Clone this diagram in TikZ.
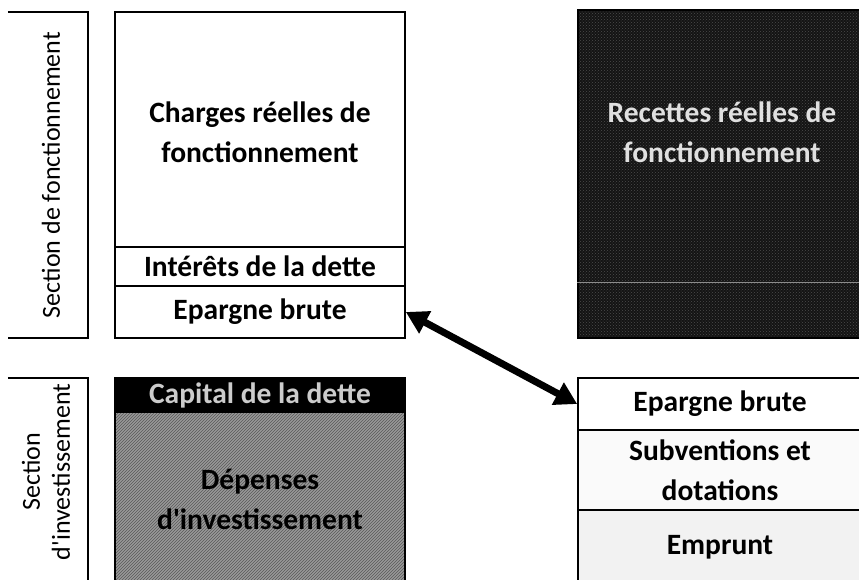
\documentclass[tikz,border=0pt]{standalone}
\usepackage{fontspec}
\setmainfont{Carlito}[Ligatures=TeXOff]
\usetikzlibrary{arrows.meta,patterns}
\begin{document}
\begin{tikzpicture}[x=1pt,y=-1pt,
  cell/.style={draw=black,line width=1.6pt,inner sep=0pt,align=center,
    font=\bfseries\fontsize{29.5}{40}\selectfont},
  celltext/.style={inner sep=0pt,align=center,font=\bfseries\fontsize{29.5}{40}\selectfont},
  frame/.style={inner sep=0pt},
  labeltext/.style={inner sep=0pt,align=center,rotate=90,font=\fontsize{26}{30}\selectfont},
  framepath/.style={draw=black,line width=1.6pt},
  bigarrow/.style={line width=7pt,{Triangle[length=22pt,width=24pt]}-{Triangle[length=22pt,width=24pt]}}]
\useasboundingbox (0,0) rectangle (859,579);

% label frames
\node[frame,minimum width=80pt,minimum height=326pt] (lab1) at (48,175) {};
\draw[framepath] (lab1.north west) -- (lab1.north east) -- (lab1.south east) -- (lab1.south west);
\node[labeltext] (lab1t) at (51,175) {Section de fonctionnement};

\node[frame,minimum width=80pt,minimum height=204pt] (lab2) at (48,480) {};
\draw[framepath] (lab2.north west) -- (lab2.north east) -- (lab2.south east);
\node[labeltext] (lab2t) at (46,472) {Section\\d'investissement};

% top-left column
\node[cell,minimum width=290pt,minimum height=235pt] (charges) at (260,129.5) {};
\node[celltext] (chargest) at (260,132) {Charges réelles de\\fonctionnement};
\node[cell,minimum width=290pt,minimum height=39pt] (interets) at (260,266.5) {Intérêts de la dette};
\node[cell,minimum width=290pt,minimum height=52pt] (epargne1) at (260,312) {Epargne brute};

% top-right dark box
\node[cell,preaction={fill=black!92},pattern=crosshatch dots,pattern color=black!70,minimum width=284pt,minimum height=328pt] (recettes) at (720,174) {};
\draw[black!45,line width=1pt] ([yshift=56pt]recettes.south west) -- ([yshift=56pt]recettes.south east);
\node[celltext,text=black!12] (recettest) at (722,132) {Recettes réelles de\\fonctionnement};

% bottom-left column
\node[cell,fill=black,text=black!20,minimum width=290pt,minimum height=34pt] (capital) at (260,395) {Capital de la dette};
\node[cell,preaction={fill=black!40},pattern=north east lines,pattern color=black!65,minimum width=290pt,minimum height=170pt] (depenses) at (260,497) {};
\node[celltext] (depensest) at (260,499) {Dépenses\\d'investissement};

% bottom-right column
\node[cell,minimum width=284pt,minimum height=52pt] (epargne2) at (720,404) {Epargne brute};
\node[cell,fill=black!2,minimum width=284pt,minimum height=80pt] (subv) at (720,470) {Subventions et\\dotations};
\node[cell,fill=black!5,minimum width=284pt,minimum height=72pt] (emprunt) at (720,546) {};
\node[celltext] (empruntt) at (720,547) {Emprunt};

% arrow
\draw[bigarrow] (epargne1.east) -- (epargne2.west);
\end{tikzpicture}
\end{document}
